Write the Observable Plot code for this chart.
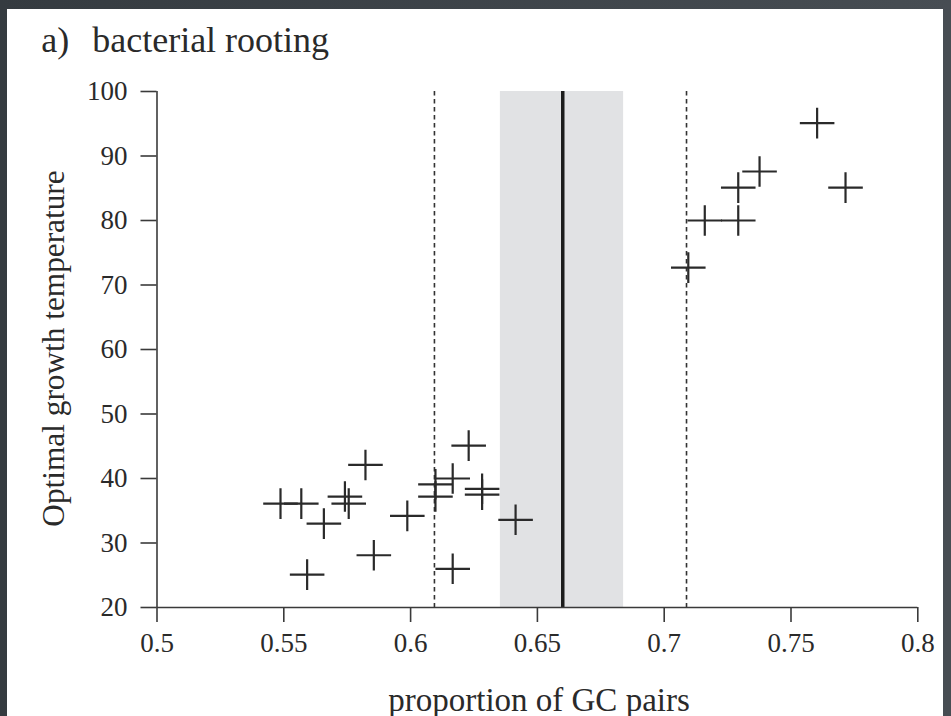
<!DOCTYPE html>
<html>
<head>
<meta charset="utf-8">
<script src="https://cdn.jsdelivr.net/npm/d3@7"></script>
<script src="https://cdn.jsdelivr.net/npm/@observablehq/plot@0.6"></script>
<style>
  html, body { margin: 0; padding: 0; }
  body { width: 951px; height: 716px; background: linear-gradient(90deg, #353b40, #474d53); overflow: hidden; position: relative; }
  #chart { position: absolute; left: 7px; top: 9px; width: 936px; height: 707px; background: white; }
  #chart svg { display: block; }
</style>
</head>
<body>
<div id="chart"></div>
<script>
// GC proportion of each genome (x) and optimal growth temperature (y)
const gcProportion = [0.5487, 0.5569, 0.5658, 0.5592, 0.5741, 0.5756, 0.5822, 0.5855, 0.5987, 0.6229,
                      0.6098, 0.6098, 0.6166, 0.6282, 0.6282, 0.6414, 0.6166,
                      0.7095, 0.7160, 0.7292, 0.7292, 0.7376, 0.7603, 0.7715];
const growthTemp   = [36.1, 36.1, 33.0, 25.1, 37.2, 36.1, 42.1, 28.1, 34.2, 45.1,
                      39.1, 37.2, 40.0, 38.4, 37.5, 33.6, 26.0,
                      72.7, 80.0, 80.0, 85.1, 87.6, 95.1, 85.1];
// root estimate and its interval
const rootEstimate = [0.660];
const rootInterval = [{lo: 0.6354, hi: 0.6840, bottom: 20, top: 100}];
const dashedBounds = [0.6094, 0.7088];
// axes
const xDomain = [0.5, 0.8];
const yDomain = [20, 100];
const xTicks = [0.5, 0.55, 0.6, 0.65, 0.7, 0.75, 0.8];
const xTickLabels = ["0.5", "0.55", "0.6", "0.65", "0.7", "0.75", "0.8"];
const yTicks = [20, 30, 40, 50, 60, 70, 80, 90, 100];
const yTickLabels = ["20", "30", "40", "50", "60", "70", "80", "90", "100"];
const titleTag = ["a)"];
const titleText = ["bacterial rooting"];
const xLabel = ["proportion of GC pairs"];
const yLabel = ["Optimal growth temperature"];

const points = gcProportion.map((x, i) => ({x, y: growthTemp[i]}));

// plus symbol, horizontal arm slightly longer than vertical
const plusSymbol = {
  draw(context, size) {
    const r = Math.sqrt(size / Math.PI);
    const h = r * 1.13;
    context.moveTo(-h, 0); context.lineTo(h, 0);
    context.moveTo(0, -r); context.lineTo(0, r);
  }
};

const ink = "#2a2a2a";
const chart = Plot.plot({
  width: 936,
  height: 707,
  marginLeft: 149.5,
  marginRight: 25.7,
  marginTop: 82,
  marginBottom: 109,
  x: {domain: xDomain},
  y: {domain: yDomain},
  style: {fontFamily: "'Liberation Serif', 'Times New Roman', serif", background: "white", color: ink},
  marks: [
    Plot.rect(rootInterval, {x1: "lo", x2: "hi", y1: "bottom", y2: "top", fill: "#e1e2e4"}),
    Plot.ruleX(dashedBounds, {stroke: "#333", strokeWidth: 1.6, strokeDasharray: "4.5,3.5"}),
    Plot.ruleX(rootEstimate, {stroke: "#1c1c1c", strokeWidth: 3.5}),
    Plot.ruleY([yDomain[0]], {stroke: "#3a3a3a", strokeWidth: 1.6}),
    Plot.ruleX([xDomain[0]], {stroke: "#3a3a3a", strokeWidth: 1.6}),
    Plot.axisX({ticks: xTicks, tickFormat: (d, i) => xTickLabels[i], tickSize: 15, tickPadding: 10.8,
                fontSize: 27, label: null, stroke: "#3a3a3a", strokeWidth: 1.6}),
    Plot.axisY({ticks: yTicks, tickFormat: (d, i) => yTickLabels[i], tickSize: 16, tickPadding: 13.5,
                fontSize: 27, label: null, stroke: "#3a3a3a", strokeWidth: 1.6}),
    Plot.dot(points, {x: "x", y: "y", symbol: plusSymbol, r: 15.3, fill: "none", stroke: ink, strokeWidth: 2.2}),
    Plot.text(titleTag, {text: d => d, frameAnchor: "top-left", textAnchor: "start", lineAnchor: "bottom",
                         dx: -115.8, dy: -39.3, fontSize: 36, fill: ink}),
    Plot.text(titleText, {text: d => d, frameAnchor: "top-left", textAnchor: "start", lineAnchor: "bottom",
                          dx: -64.8, dy: -39.3, fontSize: 36, fill: ink}),
    Plot.text(xLabel, {text: d => d, frameAnchor: "bottom", textAnchor: "middle", lineAnchor: "bottom", dx: 1.6, dy: 103,
                       fontSize: 33, fill: ink}),
    Plot.text(yLabel, {text: d => d, frameAnchor: "left", textAnchor: "middle", lineAnchor: "bottom", rotate: -90,
                       dx: -93.2, dy: -1, fontSize: 31.3, fill: ink})
  ]
});
document.getElementById("chart").appendChild(chart);
</script>
</body>
</html>
